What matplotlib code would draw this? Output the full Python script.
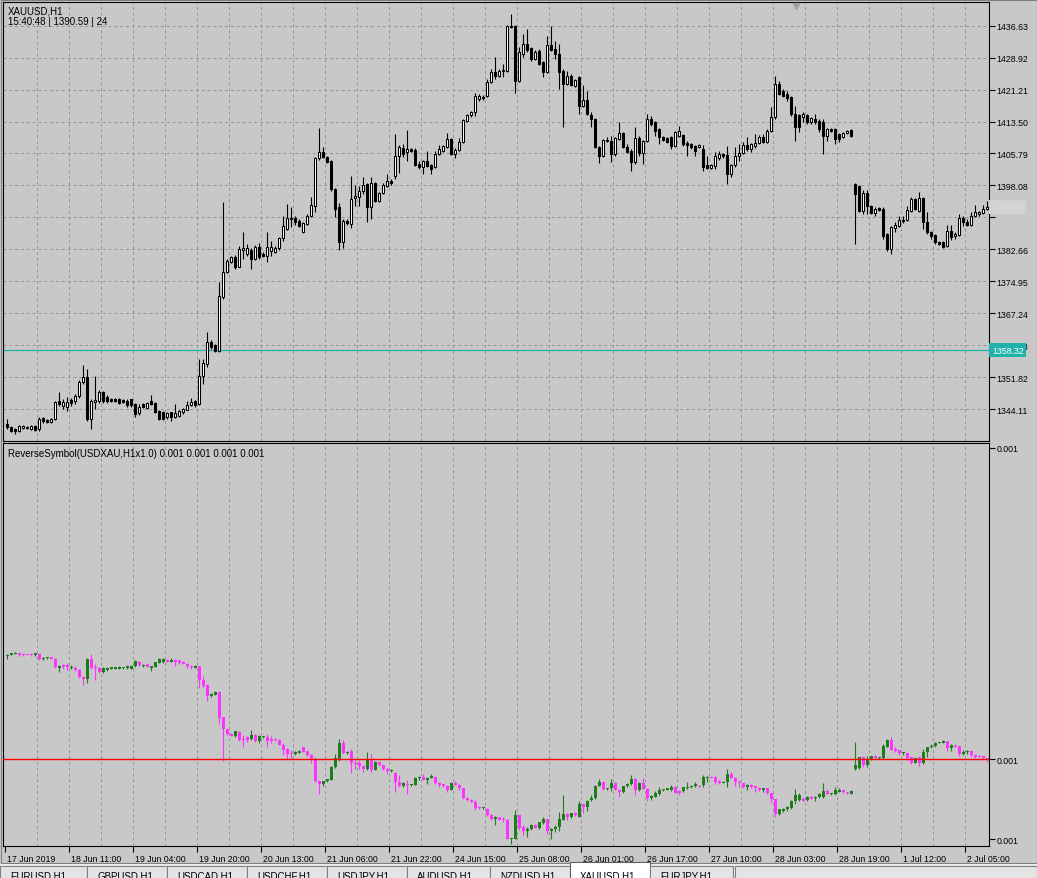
import matplotlib
matplotlib.use('Agg')
import matplotlib.pyplot as plt
from matplotlib.patches import Rectangle
from matplotlib.transforms import blended_transform_factory, ScaledTranslation
import numpy as np

plt.rcParams['font.family'] = ['Liberation Sans', 'DejaVu Sans']

# XAUUSD H1 bars
opens = [
    1340.5, 1339.8, 1339.3, 1338.8, 1339.5, 1339.5, 1339.3, 1340.0, 1339.3, 1341.9,
    1341.5, 1341.0, 1341.7, 1346.0, 1344.8, 1344.6, 1346.3, 1346.0, 1347.2, 1350.6,
    1351.8, 1341.7, 1345.8, 1346.0, 1348.2, 1347.0, 1346.5, 1346.5, 1346.5, 1346.3,
    1346.0, 1346.5, 1345.3, 1343.1, 1345.3, 1344.4, 1346.0, 1345.6, 1343.6, 1343.4,
    1342.2, 1343.3, 1342.1, 1342.5, 1343.3, 1344.0, 1345.0, 1346.1, 1345.3, 1352.1,
    1354.9, 1360.4, 1359.6, 1358.2, 1371.1, 1377.3, 1379.7, 1380.9, 1378.5, 1382.6,
    1381.5, 1382.5, 1380.3, 1383.3, 1381.5, 1381.1, 1382.2, 1382.1, 1382.9, 1385.3,
    1387.6, 1390.0, 1390.1, 1389.6, 1386.8, 1388.8, 1390.8, 1393.2, 1404.6, 1406.1,
    1404.9, 1404.0, 1397.2, 1392.8, 1384.4, 1389.6, 1388.8, 1395.0, 1395.2, 1396.8,
    1398.4, 1392.8, 1398.7, 1394.4, 1396.2, 1398.0, 1399.2, 1400.4, 1405.3, 1407.1,
    1406.1, 1406.9, 1406.7, 1403.2, 1402.5, 1404.0, 1403.0, 1402.5, 1405.7, 1406.5,
    1407.3, 1409.3, 1405.7, 1406.7, 1408.5, 1413.7, 1415.1, 1415.9, 1418.9, 1419.4,
    1419.7, 1423.0, 1425.5, 1424.6, 1425.7, 1425.8, 1436.6, 1436.5, 1423.4, 1429.8,
    1432.2, 1431.2, 1428.6, 1430.6, 1427.8, 1425.5, 1432.0, 1431.0, 1429.8, 1425.8,
    1422.6, 1424.6, 1422.1, 1424.2, 1417.3, 1418.8, 1415.1, 1414.1, 1407.3, 1405.1,
    1409.0, 1408.7, 1405.7, 1409.3, 1410.7, 1407.3, 1406.5, 1403.7, 1409.5, 1405.9,
    1408.8, 1414.1, 1413.3, 1411.7, 1409.7, 1409.5, 1409.7, 1407.7, 1410.1, 1410.2,
    1408.3, 1408.1, 1407.5, 1407.3, 1406.9, 1402.9, 1402.3, 1402.7, 1404.6, 1405.7,
    1405.4, 1400.8, 1402.9, 1405.1, 1405.9, 1407.8, 1406.9, 1407.5, 1408.3, 1409.7,
    1408.6, 1411.3, 1414.5, 1422.6, 1420.9, 1420.1, 1419.4, 1415.3, 1415.1, 1414.5,
    1415.1, 1413.3, 1414.1, 1413.6, 1413.4, 1410.0, 1411.7, 1411.7, 1410.5, 1409.8,
    1410.7, 1411.5, 1398.4, 1397.9, 1391.9, 1396.2, 1393.1, 1391.4, 1392.6, 1392.4,
    1386.4, 1382.7, 1387.8, 1388.3, 1389.7, 1389.7, 1392.0, 1394.8, 1391.9, 1395.0,
    1389.2, 1386.8, 1386.1, 1384.4, 1384.4, 1383.5, 1387.1, 1385.9, 1386.1, 1390.2,
    1389.2, 1388.5, 1390.7, 1391.2, 1391.4, 1392.4]

highs = [
    1341.7, 1340.0, 1339.5, 1340.2, 1340.2, 1340.0, 1340.2, 1340.2, 1342.2, 1342.2,
    1341.7, 1341.9, 1346.0, 1348.2, 1346.5, 1347.0, 1346.8, 1347.7, 1351.1, 1354.7,
    1353.8, 1346.5, 1352.1, 1348.7, 1348.5, 1347.5, 1346.8, 1346.8, 1346.8, 1346.5,
    1346.5, 1346.5, 1345.6, 1345.3, 1345.6, 1345.8, 1347.5, 1345.8, 1343.9, 1343.6,
    1343.4, 1343.5, 1345.3, 1344.0, 1344.4, 1346.1, 1346.7, 1346.4, 1356.3, 1356.2,
    1362.6, 1360.8, 1359.8, 1374.7, 1394.0, 1380.3, 1381.0, 1381.3, 1383.5, 1386.8,
    1384.0, 1383.0, 1383.8, 1384.2, 1382.0, 1386.8, 1384.7, 1383.5, 1385.7, 1390.8,
    1393.6, 1392.8, 1390.8, 1389.9, 1389.3, 1391.1, 1395.2, 1405.0, 1411.9, 1407.3,
    1405.2, 1404.3, 1397.5, 1393.8, 1390.0, 1390.0, 1400.4, 1398.2, 1398.0, 1400.0,
    1398.7, 1400.0, 1399.0, 1396.5, 1398.6, 1400.8, 1399.6, 1410.5, 1407.8, 1408.1,
    1411.5, 1407.2, 1407.0, 1404.0, 1404.3, 1406.5, 1403.3, 1406.5, 1407.8, 1407.8,
    1410.7, 1409.6, 1407.0, 1409.5, 1414.2, 1415.4, 1416.1, 1420.4, 1420.1, 1420.0,
    1423.8, 1426.3, 1429.0, 1426.1, 1427.4, 1436.9, 1439.5, 1436.8, 1431.4, 1434.6,
    1435.8, 1431.5, 1430.7, 1430.9, 1428.1, 1434.1, 1436.6, 1433.0, 1432.2, 1426.1,
    1425.8, 1424.9, 1423.8, 1424.5, 1422.3, 1420.9, 1415.7, 1414.4, 1407.6, 1409.3,
    1409.7, 1410.1, 1409.7, 1413.5, 1411.0, 1408.1, 1406.8, 1412.1, 1410.1, 1409.1,
    1415.3, 1414.9, 1413.6, 1412.0, 1410.0, 1409.8, 1410.0, 1411.3, 1412.5, 1410.5,
    1408.9, 1408.4, 1407.8, 1408.1, 1407.8, 1405.3, 1403.2, 1406.1, 1406.5, 1406.0,
    1407.7, 1403.2, 1407.3, 1408.1, 1408.6, 1409.7, 1408.4, 1410.5, 1410.2, 1410.5,
    1411.7, 1416.9, 1424.6, 1423.4, 1421.4, 1420.9, 1419.7, 1417.3, 1415.4, 1415.7,
    1415.4, 1414.6, 1415.3, 1414.1, 1414.1, 1411.9, 1412.0, 1412.0, 1410.8, 1411.0,
    1411.5, 1411.7, 1398.6, 1398.2, 1397.0, 1397.0, 1393.4, 1392.9, 1392.9, 1392.9,
    1386.6, 1388.3, 1389.2, 1390.8, 1390.7, 1393.2, 1395.3, 1395.1, 1396.5, 1395.3,
    1391.7, 1387.1, 1386.4, 1384.7, 1384.7, 1388.5, 1388.5, 1386.8, 1391.2, 1390.7,
    1390.0, 1391.7, 1393.3, 1391.9, 1393.3, 1394.3]

lows = [
    1339.3, 1338.6, 1338.1, 1338.6, 1339.3, 1339.3, 1339.0, 1338.8, 1338.8, 1340.7,
    1340.7, 1340.7, 1341.5, 1344.8, 1344.1, 1343.6, 1344.8, 1345.3, 1346.8, 1350.1,
    1341.2, 1339.3, 1344.1, 1345.6, 1345.6, 1345.6, 1345.8, 1345.8, 1345.3, 1345.6,
    1344.6, 1344.6, 1342.2, 1342.7, 1344.4, 1344.1, 1345.1, 1343.1, 1341.5, 1341.5,
    1341.7, 1341.3, 1341.9, 1342.2, 1343.0, 1343.8, 1344.8, 1344.7, 1345.0, 1350.1,
    1354.2, 1358.6, 1357.8, 1357.8, 1370.7, 1376.9, 1379.4, 1378.0, 1378.3, 1380.3,
    1381.0, 1377.9, 1380.0, 1380.3, 1380.7, 1379.5, 1381.0, 1381.8, 1382.5, 1384.7,
    1387.3, 1388.0, 1388.5, 1388.0, 1386.5, 1388.5, 1390.5, 1391.6, 1404.3, 1404.6,
    1403.4, 1396.8, 1390.4, 1382.6, 1383.1, 1388.6, 1387.7, 1393.2, 1393.2, 1396.0,
    1389.2, 1390.0, 1394.0, 1394.0, 1395.9, 1397.7, 1398.2, 1399.6, 1401.2, 1405.0,
    1404.0, 1406.2, 1402.7, 1402.0, 1400.8, 1402.5, 1400.8, 1402.2, 1405.4, 1406.2,
    1407.0, 1405.4, 1404.6, 1406.4, 1408.2, 1413.4, 1414.5, 1414.9, 1418.5, 1418.7,
    1419.4, 1422.7, 1423.8, 1424.3, 1424.2, 1425.5, 1436.0, 1420.5, 1423.1, 1429.0,
    1430.2, 1428.2, 1428.3, 1427.1, 1424.2, 1425.2, 1430.5, 1428.6, 1421.4, 1412.1,
    1422.3, 1422.0, 1421.8, 1415.3, 1417.0, 1415.0, 1412.1, 1407.0, 1403.5, 1404.9,
    1408.5, 1403.7, 1405.2, 1409.0, 1407.1, 1406.0, 1401.6, 1403.3, 1405.2, 1403.3,
    1408.5, 1412.5, 1410.1, 1408.1, 1408.8, 1408.3, 1406.9, 1407.3, 1409.8, 1407.7,
    1405.3, 1406.9, 1405.3, 1407.0, 1401.6, 1402.0, 1402.0, 1402.0, 1404.3, 1404.8,
    1398.4, 1400.0, 1402.6, 1404.0, 1405.6, 1406.5, 1406.1, 1407.2, 1408.0, 1408.3,
    1408.3, 1411.0, 1414.2, 1419.8, 1419.4, 1418.5, 1414.8, 1408.8, 1410.9, 1413.3,
    1413.0, 1413.0, 1412.9, 1411.0, 1405.7, 1408.8, 1410.9, 1408.1, 1408.6, 1409.5,
    1410.5, 1409.8, 1383.9, 1391.6, 1391.2, 1391.2, 1391.2, 1390.7, 1391.9, 1385.1,
    1382.3, 1381.5, 1386.8, 1388.0, 1389.0, 1389.5, 1391.7, 1392.1, 1391.6, 1387.6,
    1386.4, 1385.1, 1384.0, 1383.7, 1383.0, 1383.2, 1384.9, 1385.1, 1385.9, 1388.3,
    1388.3, 1388.3, 1390.5, 1390.7, 1391.2, 1392.2]

closes = [
    1339.8, 1338.8, 1338.8, 1340.0, 1340.0, 1339.8, 1340.0, 1339.0, 1341.7, 1341.2,
    1341.0, 1341.7, 1345.8, 1345.3, 1345.8, 1345.8, 1345.6, 1347.2, 1350.6, 1351.8,
    1341.7, 1346.0, 1346.3, 1348.2, 1346.0, 1346.0, 1346.0, 1346.0, 1345.6, 1345.8,
    1345.1, 1345.1, 1342.9, 1344.6, 1344.6, 1345.6, 1345.3, 1343.4, 1341.7, 1341.7,
    1343.1, 1342.1, 1343.1, 1343.7, 1344.1, 1345.1, 1345.9, 1345.1, 1352.1, 1355.2,
    1360.4, 1359.0, 1358.2, 1371.5, 1377.3, 1379.9, 1380.7, 1378.3, 1382.7, 1383.1,
    1383.1, 1380.3, 1383.3, 1380.7, 1381.0, 1383.3, 1383.3, 1383.0, 1385.4, 1388.2,
    1390.1, 1390.3, 1389.2, 1388.4, 1389.0, 1390.8, 1393.3, 1404.6, 1406.1, 1404.9,
    1403.7, 1397.2, 1392.4, 1384.4, 1389.6, 1389.0, 1394.8, 1395.5, 1396.8, 1398.2,
    1392.8, 1398.7, 1394.4, 1396.2, 1398.2, 1399.2, 1398.7, 1405.3, 1407.3, 1405.7,
    1406.9, 1406.5, 1403.0, 1402.5, 1404.0, 1402.8, 1402.0, 1405.7, 1406.9, 1407.5,
    1409.3, 1405.7, 1406.7, 1408.6, 1413.9, 1415.1, 1415.9, 1419.6, 1419.6, 1419.2,
    1423.0, 1425.4, 1424.6, 1425.8, 1426.0, 1436.6, 1436.3, 1423.4, 1430.4, 1432.2,
    1430.8, 1428.6, 1430.4, 1427.4, 1425.5, 1432.0, 1430.8, 1429.8, 1425.5, 1422.6,
    1424.6, 1422.3, 1423.5, 1417.3, 1418.8, 1415.3, 1414.1, 1407.3, 1405.1, 1409.0,
    1408.7, 1405.7, 1409.5, 1410.7, 1407.3, 1406.2, 1403.7, 1409.5, 1405.9, 1408.8,
    1414.1, 1412.9, 1411.3, 1409.7, 1409.1, 1408.6, 1407.7, 1411.0, 1411.3, 1408.1,
    1407.8, 1407.3, 1406.5, 1407.8, 1402.5, 1402.3, 1402.9, 1405.1, 1405.7, 1405.1,
    1400.8, 1402.9, 1405.1, 1405.9, 1407.8, 1406.9, 1408.1, 1408.3, 1409.7, 1408.6,
    1411.3, 1414.5, 1422.6, 1420.1, 1419.7, 1419.1, 1415.3, 1412.1, 1412.1, 1415.3,
    1413.3, 1414.3, 1413.3, 1411.7, 1410.0, 1411.7, 1411.2, 1409.3, 1409.3, 1410.7,
    1411.2, 1410.0, 1396.0, 1391.9, 1396.2, 1393.1, 1391.4, 1392.4, 1392.2, 1385.9,
    1382.7, 1388.0, 1388.5, 1389.7, 1389.6, 1392.2, 1394.8, 1392.4, 1395.0, 1389.2,
    1386.8, 1385.9, 1384.4, 1384.0, 1383.2, 1387.1, 1385.6, 1386.4, 1390.2, 1389.2,
    1388.5, 1390.7, 1391.7, 1391.7, 1392.4, 1392.9]

date_labels = ['17 Jun 2019', '18 Jun 11:00', '19 Jun 04:00', '19 Jun 20:00',
               '20 Jun 13:00', '21 Jun 06:00', '21 Jun 22:00', '24 Jun 15:00',
               '25 Jun 08:00', '26 Jun 01:00', '26 Jun 17:00', '27 Jun 10:00',
               '28 Jun 03:00', '28 Jun 19:00', '1 Jul 12:00', '2 Jul 05:00']
price_ticks = [1344.11, 1351.82, 1359.53, 1367.24, 1374.95, 1382.66, 1390.37,
               1398.08, 1405.79, 1413.50, 1421.21, 1428.92, 1436.63]
inv_ticks = [0.000696, 0.000803]
hline_price = 1358.32
tabs = ['EURUSD,H1', 'GBPUSD,H1', 'USDCAD,H1', 'USDCHF,H1', 'USDJPY,H1',
        'AUDUSD,H1', 'NZDUSD,H1', 'XAUUSD,H1', 'EURJPY,H1']
active_tab = 'XAUUSD,H1'

W, H = 1037, 879
BG = '#c8c8c8'
GRID = '#949494'
TEAL = '#20b2aa'
UPC = '#1e7b1e'
DNC = '#ff33ff'

o = np.array(opens)
c = np.array(closes)
h = np.maximum(np.array(highs), np.maximum(o, c))
l = np.minimum(np.array(lows), np.minimum(o, c))
x = np.arange(len(c))

fig = plt.figure(figsize=(W / 100, H / 100), dpi=100, facecolor=BG)


def px_axes(x0, y0, x1, y1):
    return fig.add_axes([x0 / W, 1 - y1 / H, (x1 - x0) / W, (y1 - y0) / H])


def px_rect(x0, y0, x1, y1, **kw):
    r = Rectangle((x0 / W, 1 - y1 / H), (x1 - x0) / W, (y1 - y0) / H,
                  transform=fig.transFigure, **kw)
    fig.patches.append(r)


ax1 = px_axes(3, 3, 989, 442)
ax2 = px_axes(3, 444, 989, 847)

grid_x = np.arange(8, len(c) + 1, 8) - 0.5
for ax in (ax1, ax2):
    ax.set_facecolor(BG)
    ax.set_xlim(-1, 245.5)
    for s in ax.spines.values():
        s.set_color('black')
        s.set_linewidth(0.8)
    for gx in grid_x:
        ax.axvline(gx, color=GRID, lw=0.7, ls=(0, (3, 3)), zorder=0.5)

# --- price candles ---
ax1.set_ylim(1336.4, 1442.35)
for p in price_ticks:
    ax1.axhline(p, color=GRID, lw=0.7, ls=(0, (3, 3)), zorder=0.5)
ax1.axhline(hline_price, color=TEAL, lw=0.9, zorder=1)

up = c >= o
ax1.vlines(x, l, h, color='black', lw=0.8, zorder=2)
ax1.bar(x, np.maximum(np.abs(c - o), 0.05), bottom=np.minimum(o, c), width=0.5,
        color=np.where(up, 'white', 'black'), edgecolor='black', linewidth=0.75, zorder=3)

ax1.set_xticks([])
ax1.yaxis.tick_right()
ax1.set_yticks(price_ticks)
# the current-price label hides the tick label it sits on
ax1.set_yticklabels(['' if abs(p - c[-1]) < 4 else f'{p:.2f}' for p in price_ticks])
ax1.tick_params(axis='y', direction='out', length=4, width=0.8, pad=1.5, labelsize=6.3)

tr1 = blended_transform_factory(ax1.transAxes, ax1.transData)
off = ScaledTranslation(3 / 100, 0, fig.dpi_scale_trans)
ax1.text(1.0, hline_price, f'{hline_price:.2f}', transform=tr1 + off, va='center', ha='left',
         fontsize=6.3, color='white', clip_on=False, zorder=10,
         bbox=dict(boxstyle='square,pad=0.3', fc=TEAL, ec='none'))
ax1.text(1.0, c[-1], f'{c[-1]:.2f}', transform=tr1 + off, va='center', ha='left',
         fontsize=6.3, color='#dedede', clip_on=False, zorder=10,
         bbox=dict(boxstyle='square,pad=0.3', fc='#d2d2d2', ec='none'))
ax1.plot([0.804], [0.992], marker='v', ms=5, color='#a0a0a0', transform=ax1.transAxes,
         clip_on=False, zorder=10)

# --- reverse symbol pane (1/price) ---
ax2.set_ylim(0.00069414, 0.00080435)
io, ic, ih, il = 1 / o, 1 / c, 1 / l, 1 / h
cols = np.where(ic > io, UPC, DNC)
ax2.vlines(x, il, ih, colors=cols, lw=0.8, zorder=2)
ax2.bar(x, np.maximum(np.abs(ic - io), 3e-7), bottom=np.minimum(io, ic), width=0.75,
        color=cols, linewidth=0, zorder=3)
ax2.axhline(ic[-1], color='#ff0000', lw=1.0, zorder=4)

ax2.yaxis.tick_right()
ax2.set_yticks(inv_ticks + [ic[-1]])
ax2.set_yticklabels(['0.001'] * (len(inv_ticks) + 1))
ax2.tick_params(axis='y', direction='out', length=4, width=0.8, pad=1.5, labelsize=6.3)

date_pos = np.arange(0, len(c), 16) - 0.5
ax2.set_xticks(date_pos)
ax2.set_xticklabels(date_labels, ha='left')
ax2.tick_params(axis='x', direction='out', length=4, width=0.8, pad=1.5, labelsize=6.3)
shift = ScaledTranslation(2 / 100, 0, fig.dpi_scale_trans)
for lbl in ax2.get_xticklabels():
    lbl.set_transform(lbl.get_transform() + shift)

# --- pane captions ---
fig.text(8 / W, 1 - 11 / H, 'XAUUSD,H1', fontsize=7, va='center')
fig.text(8 / W, 1 - 22 / H, '15:40:48 | 1390.59 | 24', fontsize=7, va='center')
fig.text(8 / W, 1 - 454 / H, 'ReverseSymbol(USDXAU,H1x1.0) 0.001 0.001 0.001 0.001',
         fontsize=7, va='center')

# --- window frame and symbol tabs (cut by the screenshot edge) ---
px_rect(0.5, 0.5, 1036.5, 864, fill=False, ec='#808080', lw=0.8)
px_rect(0, 865, W, H, fc='#ececec', ec='none')
tab_left = [0, 87, 167, 247, 327, 407, 490, 570, 650, 733]
for i, name in enumerate(tabs):
    x0, x1 = tab_left[i], tab_left[i + 1]
    if name == active_tab:
        px_rect(x0, 863, x1, H + 2, fc='white', ec='#606060', lw=0.8)
    else:
        px_rect(x0, 867, x1, H + 2, fc='#e4e4e4', ec='#808080', lw=0.8)
    fig.text((x0 + 10) / W, 1 - 872 / H, name, fontsize=7, va='top', ha='left')
px_rect(735, 867, W, H + 2, fc='#e4e4e4', ec='#808080', lw=0.8)

fig.savefig('out.png', dpi=100, facecolor=BG)
